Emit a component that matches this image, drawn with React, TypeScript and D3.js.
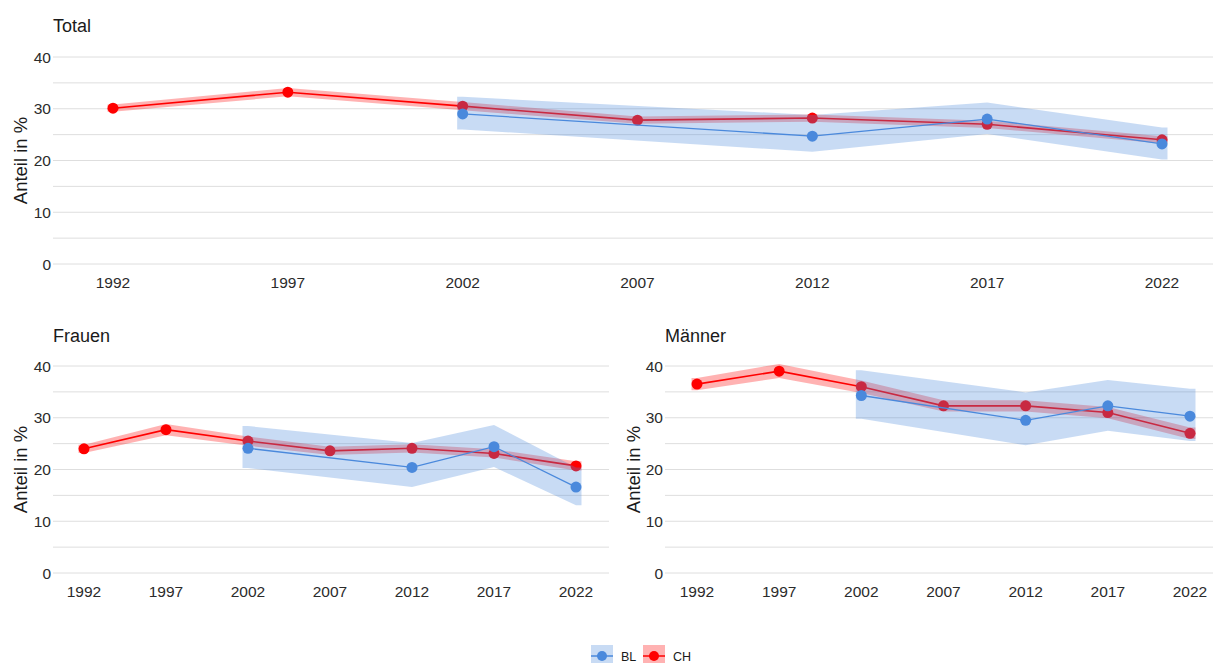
import React from 'react';
import * as d3 from 'd3';

// survey years (CH has all, BL only from 2002 on, no 2007)
const yearsCH = [1992, 1997, 2002, 2007, 2012, 2017, 2022];
const yearsBL = [2002, 2012, 2017, 2022];
const yTicks = [0, 10, 20, 30, 40];
const gridValues = [0, 5, 10, 15, 20, 25, 30, 35, 40];

const totalCH = [30.1, 33.2, 30.5, 27.8, 28.2, 27.0, 24.0];
const totalCHLo = [29.4, 32.4, 29.7, 27.1, 27.5, 26.3, 23.3];
const totalCHHi = [30.8, 34.0, 31.3, 28.5, 28.9, 27.7, 24.7];
const totalBL = [29.0, 24.7, 28.0, 23.2];
const totalBLLo = [26.0, 21.7, 25.1, 20.2];
const totalBLHi = [32.3, 28.8, 31.2, 26.4];

const frauenCH = [24.0, 27.7, 25.5, 23.6, 24.1, 23.1, 20.7];
const frauenCHLo = [23.2, 26.6, 24.6, 22.8, 23.3, 22.3, 19.8];
const frauenCHHi = [24.8, 28.8, 26.4, 24.4, 24.9, 23.9, 21.6];
const frauenBL = [24.1, 20.4, 24.4, 16.6];
const frauenBLLo = [20.3, 16.6, 20.5, 13.1];
const frauenBLHi = [28.4, 25.1, 28.6, 20.4];

const maennerCH = [36.5, 39.0, 36.0, 32.3, 32.3, 31.0, 27.0];
const maennerCHLo = [35.3, 37.7, 34.8, 31.2, 31.2, 29.9, 25.9];
const maennerCHHi = [37.7, 40.4, 37.2, 33.4, 33.4, 32.1, 28.1];
const maennerBL = [34.3, 29.5, 32.3, 30.3];
const maennerBLLo = [29.8, 24.7, 27.5, 25.5];
const maennerBLHi = [39.2, 34.9, 37.3, 35.6];

const BLUE = '#4a89dc';
const RED = '#ff0000';
const FONT = 'Liberation Sans, Arial, sans-serif';

interface Series {
  years: number[];
  values: number[];
  lo: number[];
  hi: number[];
}

interface PanelProps {
  title: string;
  gridLeft: number;
  gridRight: number;
  xRange: [number, number];
  yRange: [number, number]; // pixel of 0 and 40
  titleY: number;
  labelY: number;
  axisTitleX: number;
  ch: Series;
  bl: Series;
}

const Layer: React.FC<{
  s: Series;
  x: d3.ScaleLinear<number, number>;
  y: d3.ScaleLinear<number, number>;
  color: string;
  band: string;
  lineWidth: number;
}> = ({ s, x, y, color, band, lineWidth }) => {
  const pts = s.years.map((yr, i) => ({ px: x(yr), v: s.values[i], lo: s.lo[i], hi: s.hi[i] }));
  // ribbon runs a few pixels past the first and last point
  const ext = 5.5;
  const rib = [
    { ...pts[0], px: pts[0].px - ext },
    ...pts,
    { ...pts[pts.length - 1], px: pts[pts.length - 1].px + ext },
  ];
  const area = d3
    .area<{ px: number; lo: number; hi: number }>()
    .x((d) => d.px)
    .y0((d) => y(d.lo))
    .y1((d) => y(d.hi));
  const line = d3
    .line<{ px: number; v: number }>()
    .x((d) => d.px)
    .y((d) => y(d.v));
  return (
    <g>
      <path d={area(rib) || ''} fill={band} />
      <path d={line(pts) || ''} fill="none" stroke={color} strokeWidth={lineWidth} />
      {pts.map((d, i) => (
        <circle key={i} cx={d.px} cy={y(d.v)} r={5.5} fill={color} />
      ))}
    </g>
  );
};

const Panel: React.FC<PanelProps> = (p) => {
  const x = d3.scaleLinear().domain([1992, 2022]).range(p.xRange);
  const y = d3.scaleLinear().domain([0, 40]).range(p.yRange);
  return (
    <g fontFamily={FONT}>
      <text x={p.gridLeft} y={p.titleY} fontSize={18} fill="#1a1a1a">
        {p.title}
      </text>
      {gridValues.map((v) => (
        <line
          key={v}
          x1={p.gridLeft}
          x2={p.gridRight}
          y1={y(v)}
          y2={y(v)}
          stroke="#dedede"
          strokeWidth={1}
        />
      ))}
      {yTicks.map((v) => (
        <text
          key={v}
          x={p.gridLeft - 2}
          y={y(v)}
          dy="0.36em"
          textAnchor="end"
          fontSize={15.5}
          fill="#2b2b2b"
        >
          {v}
        </text>
      ))}
      {yearsCH.map((yr) => (
        <text key={yr} x={x(yr)} y={p.labelY} textAnchor="middle" fontSize={15.5} fill="#2b2b2b">
          {yr}
        </text>
      ))}
      <text
        transform={`translate(${p.axisTitleX},${(y(0) + y(40)) / 2}) rotate(-90)`}
        textAnchor="middle"
        fontSize={18.5}
        fill="#1a1a1a"
      >
        Anteil in %
      </text>
      <Layer s={p.ch} x={x} y={y} color={RED} band="rgba(255,0,0,0.3)" lineWidth={1.6} />
      <Layer s={p.bl} x={x} y={y} color={BLUE} band="rgba(74,137,220,0.3)" lineWidth={1.3} />
    </g>
  );
};

const LegendItem: React.FC<{ x: number; label: string; color: string; band: string }> = ({
  x,
  label,
  color,
  band,
}) => (
  <g>
    <rect x={x} y={645} width={22} height={18} fill={band} />
    <line x1={x} x2={x + 22} y1={656} y2={656} stroke={color} strokeWidth={1.5} />
    <circle cx={x + 11} cy={656} r={5} fill={color} />
    <text x={x + 30} y={660.5} fontSize={12.5} fill="#1a1a1a" fontFamily={FONT}>
      {label}
    </text>
  </g>
);

const App: React.FC = () => {
  return (
    <svg
      width={1213}
      height={664}
      style={{ position: 'absolute', left: 0, top: 0, background: '#fff' }}
    >
      <Panel
        title="Total"
        gridLeft={53}
        gridRight={1213}
        xRange={[113, 1162]}
        yRange={[264, 57]}
        titleY={32}
        labelY={288}
        axisTitleX={26.5}
        ch={{ years: yearsCH, values: totalCH, lo: totalCHLo, hi: totalCHHi }}
        bl={{ years: yearsBL, values: totalBL, lo: totalBLLo, hi: totalBLHi }}
      />
      <Panel
        title="Frauen"
        gridLeft={53}
        gridRight={609}
        xRange={[84, 576]}
        yRange={[573, 366]}
        titleY={342}
        labelY={597}
        axisTitleX={26.5}
        ch={{ years: yearsCH, values: frauenCH, lo: frauenCHLo, hi: frauenCHHi }}
        bl={{ years: yearsBL, values: frauenBL, lo: frauenBLLo, hi: frauenBLHi }}
      />
      <Panel
        title="Männer"
        gridLeft={665}
        gridRight={1213}
        xRange={[697, 1190]}
        yRange={[573, 366]}
        titleY={342}
        labelY={597}
        axisTitleX={639.5}
        ch={{ years: yearsCH, values: maennerCH, lo: maennerCHLo, hi: maennerCHHi }}
        bl={{ years: yearsBL, values: maennerBL, lo: maennerBLLo, hi: maennerBLHi }}
      />
      <LegendItem x={591} label="BL" color={BLUE} band="rgba(74,137,220,0.3)" />
      <LegendItem x={643} label="CH" color={RED} band="rgba(255,0,0,0.3)" />
    </svg>
  );
};

export default App;
